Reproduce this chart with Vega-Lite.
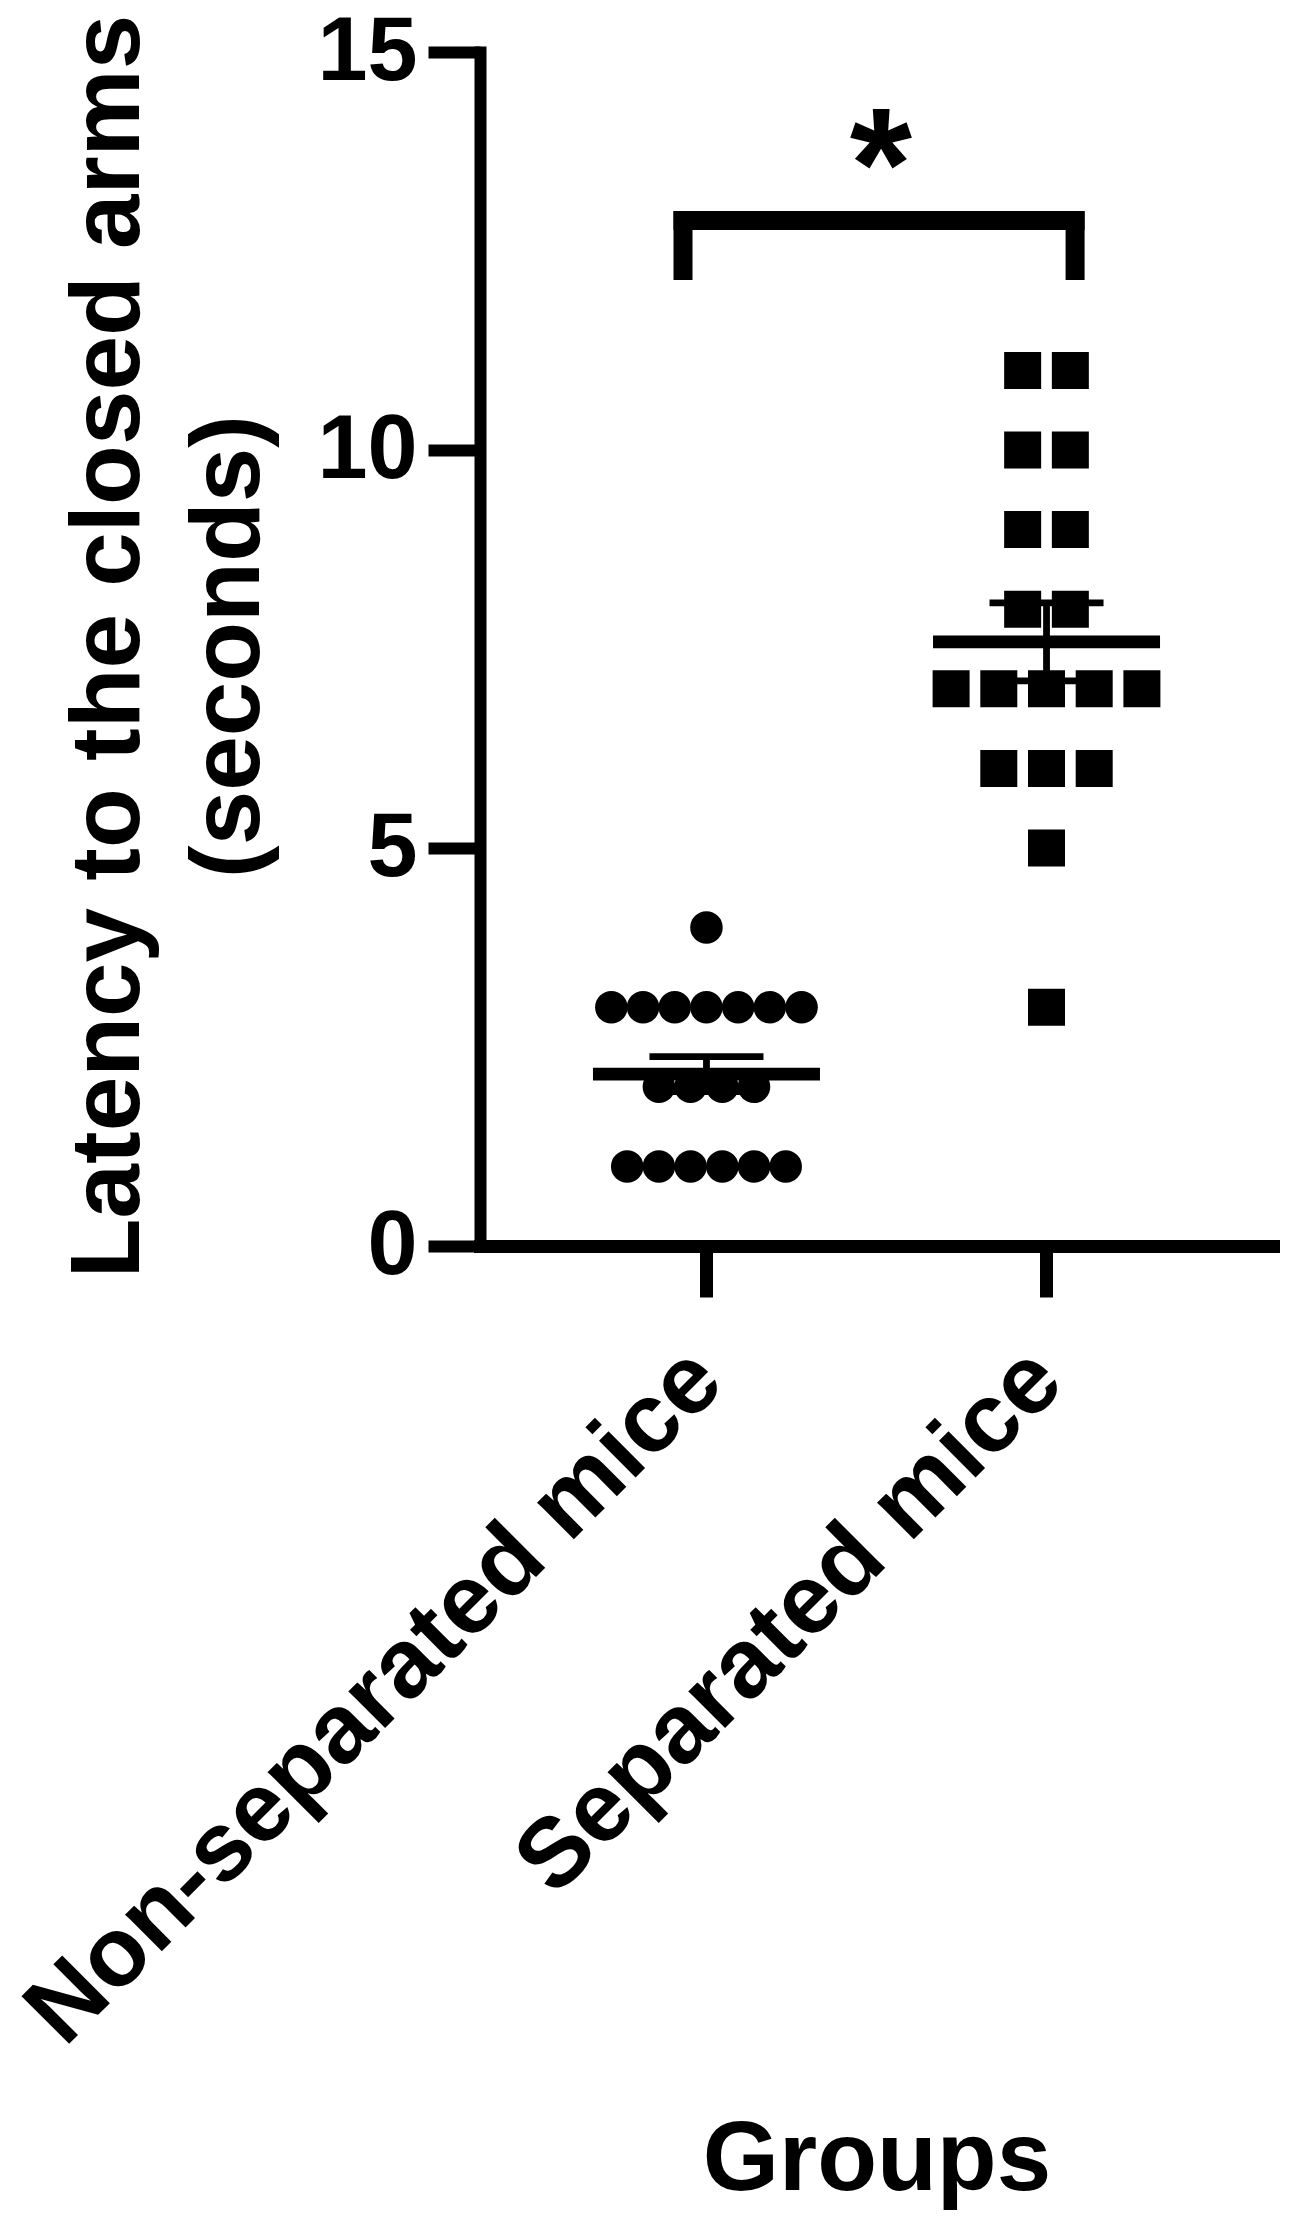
{
  "$schema": "https://vega.github.io/schema/vega-lite/v6.json",
  "width": 793,
  "height": 1194,
  "autosize": {"type": "none"},
  "padding": {"left": 480, "top": 52, "right": 27, "bottom": 986},
  "background": "white",
  "config": {
    "view": {"stroke": null},
    "font": "Liberation Sans"
  },
  "datasets": {
    "nonsep": [
      {"group": "Non-separated mice", "value": 4, "slot": 0},
      {"group": "Non-separated mice", "value": 3, "slot": -3},
      {"group": "Non-separated mice", "value": 3, "slot": -2},
      {"group": "Non-separated mice", "value": 3, "slot": -1},
      {"group": "Non-separated mice", "value": 3, "slot": 0},
      {"group": "Non-separated mice", "value": 3, "slot": 1},
      {"group": "Non-separated mice", "value": 3, "slot": 2},
      {"group": "Non-separated mice", "value": 3, "slot": 3},
      {"group": "Non-separated mice", "value": 2, "slot": -1.5},
      {"group": "Non-separated mice", "value": 2, "slot": -0.5},
      {"group": "Non-separated mice", "value": 2, "slot": 0.5},
      {"group": "Non-separated mice", "value": 2, "slot": 1.5},
      {"group": "Non-separated mice", "value": 1, "slot": -2.5},
      {"group": "Non-separated mice", "value": 1, "slot": -1.5},
      {"group": "Non-separated mice", "value": 1, "slot": -0.5},
      {"group": "Non-separated mice", "value": 1, "slot": 0.5},
      {"group": "Non-separated mice", "value": 1, "slot": 1.5},
      {"group": "Non-separated mice", "value": 1, "slot": 2.5}
    ],
    "sep": [
      {"group": "Separated mice", "value": 11, "slot": -0.5},
      {"group": "Separated mice", "value": 11, "slot": 0.5},
      {"group": "Separated mice", "value": 10, "slot": -0.5},
      {"group": "Separated mice", "value": 10, "slot": 0.5},
      {"group": "Separated mice", "value": 9, "slot": -0.5},
      {"group": "Separated mice", "value": 9, "slot": 0.5},
      {"group": "Separated mice", "value": 8, "slot": -0.5},
      {"group": "Separated mice", "value": 8, "slot": 0.5},
      {"group": "Separated mice", "value": 7, "slot": -2},
      {"group": "Separated mice", "value": 7, "slot": -1},
      {"group": "Separated mice", "value": 7, "slot": 0},
      {"group": "Separated mice", "value": 7, "slot": 1},
      {"group": "Separated mice", "value": 7, "slot": 2},
      {"group": "Separated mice", "value": 6, "slot": -1},
      {"group": "Separated mice", "value": 6, "slot": 0},
      {"group": "Separated mice", "value": 6, "slot": 1},
      {"group": "Separated mice", "value": 5, "slot": 0},
      {"group": "Separated mice", "value": 3, "slot": 0}
    ],
    "summary": [
      {"group": "Non-separated mice", "mean": 2.16, "lower": 1.94, "upper": 2.38},
      {"group": "Separated mice", "mean": 7.59, "lower": 7.1, "upper": 8.08}
    ],
    "legLeft": [{"group": "Non-separated mice", "y": 12.255, "y2": 12.883}],
    "legRight": [{"group": "Separated mice", "y": 12.255, "y2": 12.883}],
    "bar": [{"g1": "Non-separated mice", "g2": "Separated mice", "y": 12.883}],
    "star": [{"group": "Separated mice", "y": 12.9, "label": "*"}]
  },
  "layer": [
    {
      "data": {"name": "summary"},
      "mark": {"type": "tick", "size": 227, "thickness": 12.7, "color": "black", "opacity": 1},
      "encoding": {
        "x": {
          "field": "group", "type": "nominal",
          "scale": {"type": "band", "paddingInner": 0, "paddingOuter": 0.166},
          "axis": {
            "title": "Groups",
            "titleFont": "Liberation Sans", "titleFontWeight": "bold", "titleFontSize": 98, "titleColor": "black",
            "titleY": 943, "titleBaseline": "alphabetic",
            "labelAngle": -45, "labelAlign": "right", "labelBaseline": "middle",
            "labelFont": "Liberation Sans", "labelFontWeight": "bold", "labelFontSize": 98, "labelColor": "black",
            "labelPadding": 68, "labelLimit": 0, "labelOverlap": false, "labelBound": false,
            "tickSize": 51, "tickWidth": 13, "tickColor": "black",
            "domainWidth": 13, "domainColor": "black", "domainCap": "square",
            "grid": false
          }
        },
        "y": {
          "field": "mean", "type": "quantitative",
          "scale": {"domain": [0, 15], "nice": false, "zero": true},
          "axis": {
            "values": [0, 5, 10, 15],
            "format": "d",
            "title": ["Latency to the closed arms", "(seconds)"],
            "titleFont": "Liberation Sans", "titleFontWeight": "bold", "titleFontSize": 98, "titleColor": "black",
            "titleLineHeight": 120, "titleAngle": -90, "titleAlign": "center", "titleBaseline": "alphabetic",
            "titleX": -342, "titleY": 594,
            "labelFont": "Liberation Sans", "labelFontWeight": "bold", "labelFontSize": 90, "labelColor": "black",
            "labelPadding": 11, "labelBaseline": "middle",
            "tickSize": 52, "tickWidth": 12, "tickColor": "black",
            "domainWidth": 12, "domainColor": "black", "domainCap": "square",
            "grid": false
          }
        }
      }
    },
    {
      "data": {"name": "summary"},
      "mark": {"type": "tick", "size": 114, "thickness": 6.8, "color": "black", "opacity": 1},
      "encoding": {
        "x": {"field": "group", "type": "nominal"},
        "y": {"field": "upper", "type": "quantitative"}
      }
    },
    {
      "data": {"name": "summary"},
      "mark": {"type": "tick", "size": 114, "thickness": 6.8, "color": "black", "opacity": 1},
      "encoding": {
        "x": {"field": "group", "type": "nominal"},
        "y": {"field": "lower", "type": "quantitative"}
      }
    },
    {
      "data": {"name": "summary"},
      "mark": {"type": "rule", "strokeWidth": 6.8, "color": "black", "opacity": 1},
      "encoding": {
        "x": {"field": "group", "type": "nominal"},
        "y": {"field": "lower", "type": "quantitative"},
        "y2": {"field": "upper"}
      }
    },
    {
      "data": {"name": "nonsep"},
      "mark": {"type": "circle", "size": 1058, "color": "black", "opacity": 1},
      "encoding": {
        "x": {"field": "group", "type": "nominal"},
        "xOffset": {"field": "slot", "type": "quantitative", "scale": {"domain": [-1, 1], "range": [138.3, 201.7]}},
        "y": {"field": "value", "type": "quantitative"}
      }
    },
    {
      "data": {"name": "sep"},
      "mark": {"type": "square", "size": 1369, "color": "black", "opacity": 1},
      "encoding": {
        "x": {"field": "group", "type": "nominal"},
        "xOffset": {"field": "slot", "type": "quantitative", "scale": {"domain": [-1, 1], "range": [122.3, 217.7]}},
        "y": {"field": "value", "type": "quantitative"}
      }
    },
    {
      "data": {"name": "legLeft"},
      "mark": {"type": "rule", "strokeWidth": 19, "strokeCap": "square", "color": "black"},
      "encoding": {
        "x": {"field": "group", "type": "nominal", "bandPosition": 0.431},
        "y": {"field": "y", "type": "quantitative"},
        "y2": {"field": "y2"}
      }
    },
    {
      "data": {"name": "legRight"},
      "mark": {"type": "rule", "strokeWidth": 19, "strokeCap": "square", "color": "black"},
      "encoding": {
        "x": {"field": "group", "type": "nominal", "bandPosition": 0.584},
        "y": {"field": "y", "type": "quantitative"},
        "y2": {"field": "y2"}
      }
    },
    {
      "data": {"name": "bar"},
      "mark": {"type": "rule", "strokeWidth": 19, "strokeCap": "square", "color": "black"},
      "encoding": {
        "x": {"field": "g1", "type": "nominal", "bandPosition": 0.431},
        "x2": {"field": "g2", "bandPosition": 0.584},
        "y": {"field": "y", "type": "quantitative"}
      }
    },
    {
      "data": {"name": "star"},
      "mark": {"type": "text", "font": "Liberation Sans", "fontWeight": "bold", "fontSize": 160, "align": "center", "baseline": "alphabetic", "color": "black"},
      "encoding": {
        "x": {"field": "group", "type": "nominal", "bandPosition": 0.013},
        "y": {"field": "y", "type": "quantitative"},
        "text": {"field": "label"}
      }
    }
  ],
  "resolve": {"scale": {"xOffset": "independent"}}
}
